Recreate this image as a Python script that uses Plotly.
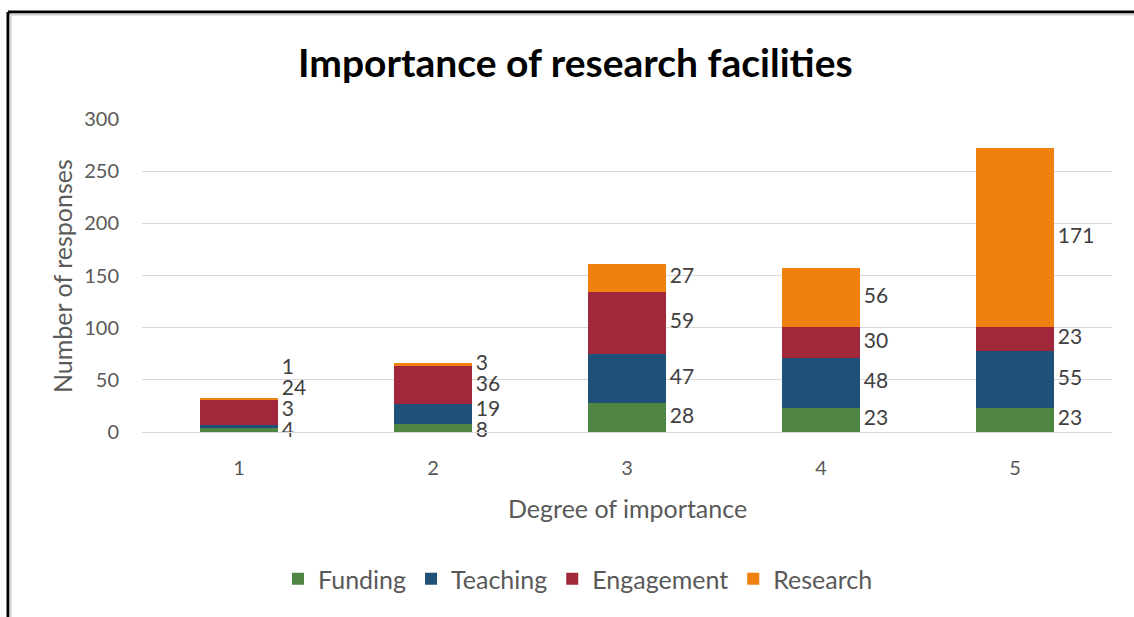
import plotly.graph_objects as go

categories = ["1", "2", "3", "4", "5"]
funding = [4, 8, 28, 23, 23]
teaching = [3, 19, 47, 48, 55]
engagement = [24, 36, 59, 30, 23]
research = [1, 3, 27, 56, 171]

series = [
    ("Funding", funding, "#4E8542"),
    ("Teaching", teaching, "#1F5078"),
    ("Engagement", engagement, "#A0283A"),
    ("Research", research, "#F08110"),
]

W, H = 1134, 617
ML, MR, MT, MB = 142, 22, 119, 185
PW, PH = W - ML - MR, H - MT - MB
YMAX = 300
unit_per_px = YMAX / PH
cat_per_px = 5 / PW

FONT = "Lato"
GRAY = "#595959"

x_pos = [i + 1 for i in range(len(categories))]
BAR_W = 0.4


def spread(mids, gap, floor):
    # merge overlapping labels into clusters centred on their mean
    clusters = [[m, [m]] for m in mids]
    def pos_of(c):
        n = len(c[1])
        return sum(c[1]) / n - gap * (n - 1) / 2
    for c in clusters:
        c[0] = pos_of(c)
    changed = True
    while changed:
        changed = False
        for i in range(len(clusters) - 1):
            a, b = clusters[i], clusters[i + 1]
            if a[0] + gap * len(a[1]) > b[0]:
                merged = [0, a[1] + b[1]]
                merged[0] = pos_of(merged)
                clusters[i:i + 2] = [merged]
                changed = True
                break
    out = []
    for c in clusters:
        for k in range(len(c[1])):
            out.append(c[0] + k * gap)
    for i in range(len(out)):
        lo = floor if i == 0 else out[i - 1] + gap
        out[i] = max(out[i], lo)
    return out


fig = go.Figure()
for name, vals, col in series:
    fig.add_trace(go.Bar(x=x_pos, y=vals, name=name, marker_color=col,
                         marker_line_width=0, width=BAR_W))

# data labels to the right of each segment, spread to avoid overlap
gap = 21 * unit_per_px
floor = 0.5
lab_x, lab_y, lab_t = [], [], []
for ci, xp in enumerate(x_pos):
    base = 0
    mids = []
    for name, vals, col in series:
        v = vals[ci]
        mids.append(base + v / 2)
        base += v
    ys = spread(mids, gap, floor)
    for (name, vals, col), y in zip(series, ys):
        lab_x.append(xp + BAR_W / 2 + 4 * cat_per_px)
        lab_y.append(y)
        lab_t.append(str(vals[ci]))

fig.add_trace(go.Scatter(x=lab_x, y=lab_y, text=lab_t, mode="text",
                         textposition="middle right", showlegend=False,
                         hoverinfo="skip", cliponaxis=False,
                         textfont=dict(family=FONT, size=21, color="#404040")))

def px_x(p):
    return (p - ML) / PW

def px_y(p):
    return (H - MB - p) / PH

fig.update_layout(
    width=W, height=H,
    margin=dict(l=ML, r=MR, t=MT, b=MB, autoexpand=False),
    barmode="stack",
    plot_bgcolor="white", paper_bgcolor="white",
    font=dict(family=FONT, color=GRAY, size=18),
    showlegend=True,
    legend=dict(orientation="h", x=px_x(578), xanchor="center",
                y=px_y(579), yanchor="middle", traceorder="normal",
                font=dict(size=25, color=GRAY, family=FONT),
                itemwidth=30, tracegroupgap=0),
    xaxis=dict(range=[0.5, 5.5], tickvals=x_pos, ticktext=categories,
               showgrid=False, zeroline=False, showline=True,
               linecolor="#D9D9D9", linewidth=1, ticks="",
               ticklabelstandoff=18,
               tickfont=dict(size=20, color=GRAY, family=FONT)),
    yaxis=dict(range=[0, YMAX], dtick=50, showgrid=True, gridcolor="#D9D9D9",
               gridwidth=1, zeroline=False, showline=False, ticks="",
               ticklabelstandoff=22,
               tickfont=dict(size=20, color=GRAY, family=FONT)),
    annotations=[
        dict(text="<b>Importance of research facilities</b>", xref="paper", yref="paper",
             x=px_x(575), y=px_y(62), xanchor="center", yanchor="middle",
             showarrow=False, font=dict(size=39, color="#000000", family=FONT)),
        dict(text="Degree of importance", xref="paper", yref="paper",
             x=px_x(627), y=px_y(508), xanchor="center", yanchor="middle",
             showarrow=False, font=dict(size=25, color=GRAY, family=FONT)),
        dict(text="Number of responses", xref="paper", yref="paper",
             x=px_x(62), y=px_y(276), xanchor="center", yanchor="middle",
             textangle=-90, showarrow=False,
             font=dict(size=25, color=GRAY, family=FONT)),
    ],
    shapes=[
        dict(type="line", xref="paper", yref="paper", x0=px_x(8), x1=px_x(8),
             y0=px_y(12), y1=px_y(H), line=dict(color="black", width=3)),
        dict(type="line", xref="paper", yref="paper", x0=px_x(8), x1=px_x(W),
             y0=px_y(12), y1=px_y(12), line=dict(color="black", width=3)),
        dict(type="line", xref="paper", yref="paper", x0=px_x(10.5), x1=px_x(10.5),
             y0=px_y(14.5), y1=px_y(H), line=dict(color="#D0D0D0", width=2)),
        dict(type="line", xref="paper", yref="paper", x0=px_x(10.5), x1=px_x(W),
             y0=px_y(14.5), y1=px_y(14.5), line=dict(color="#D0D0D0", width=2)),
    ],
)

fig.write_html("out.html", config={"displayModeBar": False},
               post_script="document.body.style.margin='0';")
